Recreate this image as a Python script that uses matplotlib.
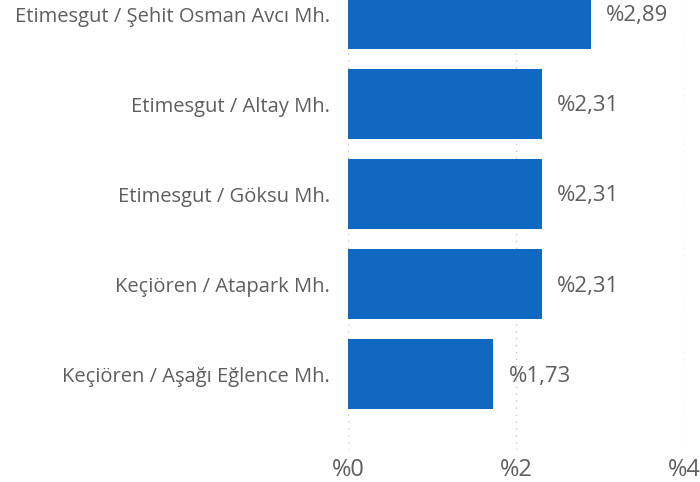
import matplotlib.pyplot as plt
import numpy as np

plt.rcParams['font.family'] = ['Open Sans', 'DejaVu Sans']

categories = ['Etimesgut / Şehit Osman Avcı Mh.', 'Etimesgut / Altay Mh.',
              'Etimesgut / Göksu Mh.', 'Keçiören / Atapark Mh.',
              'Keçiören / Aşağı Eğlence Mh.']
values = [2.89, 2.31, 2.31, 2.31, 1.73]
xticks = [0, 2, 4]
xtick_labels = ['%0', '%2', '%4']

fig = plt.figure(figsize=(7, 4.82), dpi=100)
ax = fig.add_axes([348 / 700, 1 - 450 / 482, 336 / 700, 450 / 482])

y = np.arange(len(categories))
ax.barh(y, values, height=0.78, color='#1068C1', zorder=2)
for yi, v in zip(y, values):
    ax.text(v + 0.18, yi + 0.02, '%' + f'{v:.2f}'.replace('.', ','), va='center', ha='left',
            fontsize=16, color='#605E5C')

ax.set_xlim(0, 4)
ax.set_ylim(4.84, -0.156)
ax.set_xticks(xticks)
ax.set_xticklabels(xtick_labels, fontsize=17, color='#605E5C')
ax.set_yticks(y)
ax.set_yticklabels(categories, fontsize=14.5, color='#605E5C')
ax.tick_params(length=0, pad=13, axis='y')
ax.tick_params(length=0, pad=6, axis='x')
ax.xaxis.grid(True, linestyle=(0, (1, 4)), color='#C8C8C8', linewidth=1, zorder=0)
for s in ax.spines.values():
    s.set_visible(False)

fig.savefig('out.png', dpi=100)
